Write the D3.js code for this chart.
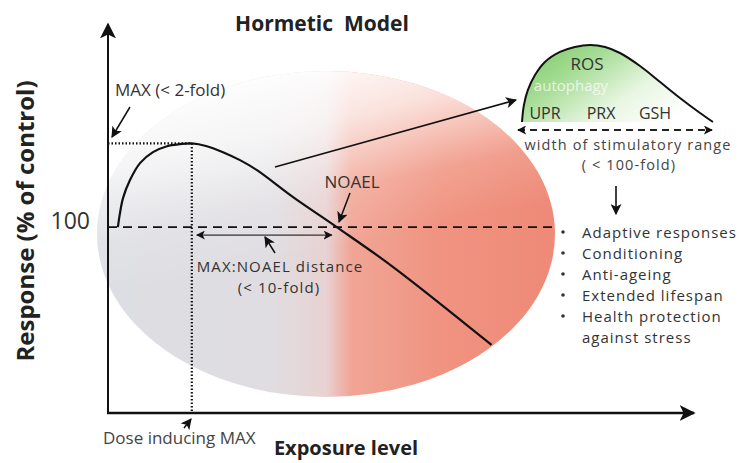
<!DOCTYPE html>
<html><head><meta charset="utf-8">
<script src="https://cdn.jsdelivr.net/npm/d3@7"></script>
<style>
html,body{margin:0;padding:0;background:#fff;}
svg{display:block;font-family:"Open Sans","Lato",sans-serif;}
</style></head>
<body>
<svg id="c" width="753" height="463"></svg>
<script>
// ---- data ----
const title = "Hormetic  Model";
const yLabel = "Response (% of control)";
const xLabel = "Exposure level";
const yTicks = [100];
const controlLevel = 100;
const maxResponse = 145;
const doseAtMax = 14.4;
const noael = 39.3;
const curveDose = [1.7, 2.06, 2.58, 3.78, 5.5, 7.73, 10.14, 12.37, 14.4, 16.99, 19.76, 22.68, 25.6, 31.8, 39.3, 49.0, 65.9];
const curveResp = [100, 107.5, 115.6, 125.3, 134.4, 140.3, 143.5, 144.6, 145, 143.5, 140.3, 136.0, 130.6, 116.1, 100, 78.5, 36.6];
const insetDose = [0, 1.0, 3.1, 6.8, 12, 19.9, 27.7, 35.6, 43.5, 51.3, 61.8, 72.3, 82.7, 93.2, 100];
const insetResp = [0, 22, 41.6, 61, 78, 91, 97.4, 100, 97.4, 89.6, 72.7, 51.9, 31.2, 11.7, 0];
const insetMarkers = ["UPR", "PRX", "GSH"];
const outcomes = ["Adaptive responses", "Conditioning", "Anti-ageing", "Extended lifespan", "Health protection"];
const outcomeCont = "against stress";

// ---- setup ----
const svg = d3.select("#c");
const defs = svg.append("defs");
const x = d3.scaleLinear().domain([0, 100]).range([108, 690]);
const y = d3.scaleLinear().domain([0, 206]).range([413, 30]);
const xi = d3.scaleLinear().domain([0, 100]).range([522, 713]);
const yi = d3.scaleLinear().domain([0, 100]).range([122, 45]);

function marker(id, size){
  defs.append("marker").attr("id", id).attr("viewBox", "0 0 10 10")
    .attr("refX", 9).attr("refY", 5).attr("markerWidth", size).attr("markerHeight", size)
    .attr("markerUnits", "userSpaceOnUse").attr("orient", "auto-start-reverse")
    .append("path").attr("d", "M0,0 L10,5 L0,10 L2.5,5 Z").attr("fill", "#111");
}
marker("ah", 11); marker("ahs", 9); marker("ahb", 16);

// ellipse gradients
const g1 = defs.append("linearGradient").attr("id", "ell").attr("x1", 0).attr("y1", 0).attr("x2", 1).attr("y2", 0);
[[0, "#dcdde3"], [0.38, "#e0dde1"], [0.5, "#e8d2d2"], [0.555, "#f1a596"], [0.75, "#f09380"], [1, "#ee8a77"]]
  .forEach(s => g1.append("stop").attr("offset", s[0]).attr("stop-color", s[1]));
const g2 = defs.append("linearGradient").attr("id", "ellw").attr("x1", 0.3).attr("y1", 0).attr("x2", 0.55).attr("y2", 0.8);
g2.append("stop").attr("offset", 0).attr("stop-color", "#fff").attr("stop-opacity", 1);
g2.append("stop").attr("offset", 0.25).attr("stop-color", "#fff").attr("stop-opacity", 0.7);
g2.append("stop").attr("offset", 0.5).attr("stop-color", "#fff").attr("stop-opacity", 0.15);
g2.append("stop").attr("offset", 0.7).attr("stop-color", "#fff").attr("stop-opacity", 0);
const g3 = defs.append("linearGradient").attr("id", "grn").attr("x1", 0).attr("y1", 0).attr("x2", 1).attr("y2", 0.6);
[[0, "#78c962"], [0.35, "#a6dc95"], [0.7, "#e8f6e2"], [1, "#ffffff"]]
  .forEach(s => g3.append("stop").attr("offset", s[0]).attr("stop-color", s[1]));

const ell = {cx: 326, cy: 234, rx: 229, ry: 163};
svg.append("ellipse").attr("cx", ell.cx).attr("cy", ell.cy).attr("rx", ell.rx).attr("ry", ell.ry).attr("fill", "url(#ell)");
svg.append("ellipse").attr("cx", ell.cx).attr("cy", ell.cy).attr("rx", ell.rx).attr("ry", ell.ry).attr("fill", "url(#ellw)");

// title
svg.append("text").attr("x", 322).attr("y", 31).attr("text-anchor", "middle").style("white-space", "pre")
  .attr("font-size", 21).attr("font-weight", "bold").attr("fill", "#222").text(title);

// axes
svg.append("line").attr("x1", x(0)).attr("x2", x(0)).attr("y1", y(0) + 1).attr("y2", 24)
  .attr("stroke", "#111").attr("stroke-width", 2).attr("marker-end", "url(#ahb)");
svg.append("line").attr("x1", x(0) - 1).attr("x2", x(100) + 4).attr("y1", y(0)).attr("y2", y(0))
  .attr("stroke", "#111").attr("stroke-width", 2.5).attr("marker-end", "url(#ahb)");
svg.append("text").attr("transform", "translate(34,221) rotate(-90)").attr("text-anchor", "middle")
  .attr("font-size", 24).attr("font-weight", "bold").attr("fill", "#222").text(yLabel);
svg.append("text").attr("x", 346).attr("y", 455).attr("text-anchor", "middle")
  .attr("font-size", 20).attr("font-weight", "bold").attr("fill", "#222").text(xLabel);
svg.selectAll(".ytick").data(yTicks).enter().append("text")
  .attr("x", 90).attr("y", d => y(d) + 2).attr("text-anchor", "end")
  .attr("font-size", 23).attr("fill", "#333").text(d => d);

// reference lines
svg.append("line").attr("x1", x(0)).attr("x2", 555).attr("y1", y(controlLevel)).attr("y2", y(controlLevel))
  .attr("stroke", "#111").attr("stroke-width", 1.8).attr("stroke-dasharray", "9,6");
svg.append("line").attr("x1", x(0)).attr("x2", x(doseAtMax)).attr("y1", y(maxResponse)).attr("y2", y(maxResponse))
  .attr("stroke", "#111").attr("stroke-width", 2.2).attr("stroke-dasharray", "1.5,2");
svg.append("line").attr("x1", x(doseAtMax)).attr("x2", x(doseAtMax)).attr("y1", y(maxResponse)).attr("y2", y(0))
  .attr("stroke", "#111").attr("stroke-width", 2.2).attr("stroke-dasharray", "1.5,2");

// main curve
const pts = curveDose.map((d, i) => [d, curveResp[i]]);
svg.append("path").datum(pts)
  .attr("d", d3.line().x(d => x(d[0])).y(d => y(d[1])).curve(d3.curveCatmullRom.alpha(0.5)))
  .attr("fill", "none").attr("stroke", "#111").attr("stroke-width", 2.2);

// annotations
svg.append("text").attr("x", 115).attr("y", 96).attr("font-size", 17).attr("fill", "#333").text("MAX (< 2-fold)");
svg.append("line").attr("x1", 130).attr("y1", 107).attr("x2", 112).attr("y2", 137)
  .attr("stroke", "#111").attr("stroke-width", 1.5).attr("marker-end", "url(#ah)");
svg.append("line").attr("x1", x(doseAtMax) + 5).attr("x2", x(noael) - 5).attr("y1", y(controlLevel) + 8).attr("y2", y(controlLevel) + 8)
  .attr("stroke", "#333").attr("stroke-width", 1.2).attr("marker-start", "url(#ahs)").attr("marker-end", "url(#ahs)");
svg.append("line").attr("x1", 275).attr("y1", 253).attr("x2", 265).attr("y2", 237)
  .attr("stroke", "#111").attr("stroke-width", 1.5).attr("marker-end", "url(#ah)");
svg.append("text").attr("x", 280).attr("y", 272).attr("text-anchor", "middle").attr("font-size", 15)
  .attr("letter-spacing", 1.1).attr("fill", "#333").text("MAX:NOAEL distance");
svg.append("text").attr("x", 279).attr("y", 293).attr("text-anchor", "middle").attr("font-size", 15)
  .attr("letter-spacing", 1.1).attr("fill", "#333").text("(< 10-fold)");
svg.append("text").attr("x", 352).attr("y", 188).attr("text-anchor", "middle").attr("font-size", 17).attr("fill", "#333").text("NOAEL");
svg.append("line").attr("x1", 350).attr("y1", 193).attr("x2", 339).attr("y2", 222)
  .attr("stroke", "#111").attr("stroke-width", 1.5).attr("marker-end", "url(#ah)");
svg.append("text").attr("x", 103).attr("y", 444).attr("font-size", 17).attr("fill", "#444").text("Dose inducing MAX");
svg.append("line").attr("x1", 184).attr("y1", 428).attr("x2", 191).attr("y2", 419)
  .attr("stroke", "#111").attr("stroke-width", 1.5).attr("marker-end", "url(#ah)");
svg.append("line").attr("x1", 275).attr("y1", 167).attr("x2", 516).attr("y2", 100)
  .attr("stroke", "#111").attr("stroke-width", 1.6).attr("marker-end", "url(#ah)");

// inset
const ipts = insetDose.map((d, i) => [d, insetResp[i]]);
svg.append("path").datum(ipts)
  .attr("d", d3.area().x(d => xi(d[0])).y0(yi(0)).y1(d => yi(d[1])).curve(d3.curveCatmullRom.alpha(0.5)))
  .attr("fill", "url(#grn)");
svg.append("path").datum(ipts)
  .attr("d", d3.line().x(d => xi(d[0])).y(d => yi(d[1])).curve(d3.curveCatmullRom.alpha(0.5)))
  .attr("fill", "none").attr("stroke", "#111").attr("stroke-width", 2);
svg.append("text").attr("x", 587).attr("y", 70).attr("text-anchor", "middle").attr("font-size", 17).attr("fill", "#333").text("ROS");
svg.append("text").attr("x", 571).attr("y", 91).attr("text-anchor", "middle").attr("font-size", 15).attr("fill", "#fff").attr("opacity", 0.7).text("autophagy");
const mx = [545, 601, 655];
svg.selectAll(".mk").data(insetMarkers).enter().append("text")
  .attr("x", (d, i) => mx[i]).attr("y", 119).attr("text-anchor", "middle").attr("font-size", 16).attr("fill", "#333").text(d => d);
svg.append("line").attr("x1", xi(0) - 4).attr("x2", xi(100) - 1).attr("y1", 130).attr("y2", 130)
  .attr("stroke", "#222").attr("stroke-width", 1.8).attr("stroke-dasharray", "7,5")
  .attr("marker-start", "url(#ahs)").attr("marker-end", "url(#ahs)");
svg.append("text").attr("x", 628).attr("y", 150).attr("text-anchor", "middle").attr("font-size", 14.5)
  .attr("letter-spacing", 1.1).attr("fill", "#444").text("width of stimulatory range");
svg.append("text").attr("x", 629).attr("y", 170).attr("text-anchor", "middle").attr("font-size", 14.5)
  .attr("letter-spacing", 1.1).attr("fill", "#444").text("( < 100-fold)");
svg.append("line").attr("x1", 616).attr("x2", 616).attr("y1", 186).attr("y2", 214)
  .attr("stroke", "#111").attr("stroke-width", 1.6).attr("marker-end", "url(#ah)");

// outcome list
const oy = [238, 259, 280, 301, 322];
svg.selectAll(".ob").data(outcomes).enter().append("circle")
  .attr("cx", 563).attr("cy", (d, i) => oy[i] - 6).attr("r", 1.8).attr("fill", "#333");
svg.selectAll(".ot").data(outcomes).enter().append("text")
  .attr("x", 582).attr("y", (d, i) => oy[i]).attr("font-size", 15).attr("letter-spacing", 1)
  .attr("fill", "#333").text(d => d);
svg.append("text").attr("x", 582).attr("y", 343).attr("font-size", 15).attr("letter-spacing", 1)
  .attr("fill", "#333").text(outcomeCont);
</script>
</body></html>
